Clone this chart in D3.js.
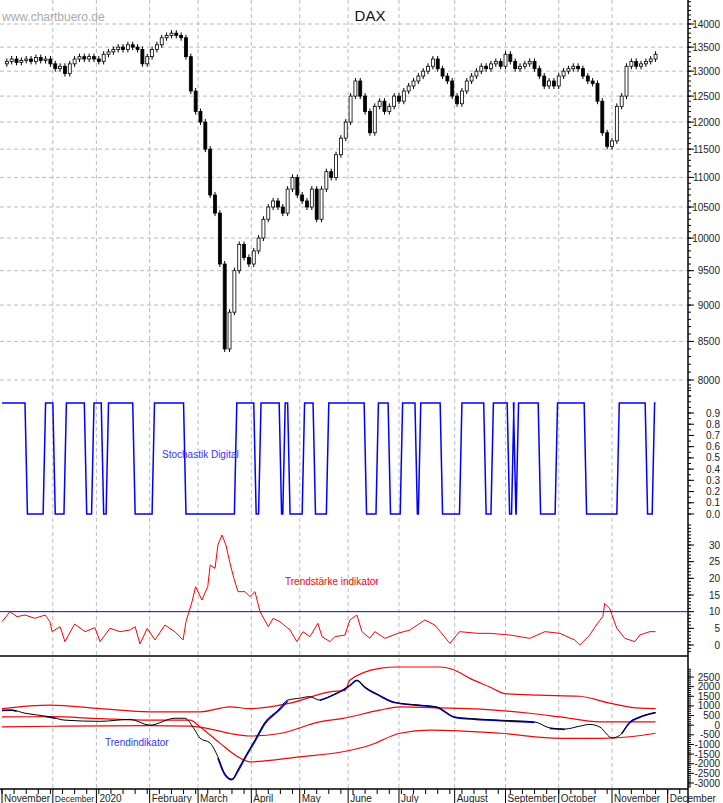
<!DOCTYPE html>
<html><head><meta charset="utf-8">
<script src="https://cdn.jsdelivr.net/npm/d3@7"></script>
<style>body{margin:0;background:#fff}svg{display:block;font-family:Arial,"Liberation Sans",sans-serif}</style>
</head><body><svg id="c" width="723" height="803"></svg>
<script>
// trading days per month, Nov 2019 .. Dec 2020
const months = ["November","December","2020","February","March","April","May","June","July","August","September","October","November","December"];
const monthDays = [21,18,22,20,22,20,20,21,23,21,22,22,23,10];
// closes, one every 2 trading days
const closes = [13150,13200,13250,13180,13220,13250,13200,13280,13220,13250,13150,13050,13100,12950,13150,13250,13300,13250,13300,13250,
13200,13350,13400,13450,13500,13450,13550,13500,13450,13150,13300,13450,13550,13700,13750,13800,13750,13700,13300,12600,
12200,12000,11500,10700,10400,9600,8400,8900,9500,9900,9700,9600,9800,10000,10300,10500,10600,10500,10400,10800,
11000,10700,10600,10500,10800,10300,10800,11100,11000,11400,11700,12000,12500,12800,12500,12200,11800,12300,12400,12200,
12300,12500,12400,12600,12700,12800,12900,13000,13100,13250,13050,12900,12800,12500,12350,12600,12800,12900,13000,13100,
13050,13150,13200,13100,13350,13200,13050,13100,13150,13200,13050,12900,12700,12800,12700,12900,13000,13050,13100,13050,
12900,12800,12750,12400,11800,11550,11650,12300,12500,13100,13200,13100,13150,13200,13250,13350];
// stochastic digital: starts at 1, flips at these trading days
const stochFlips = [9.5,17,21,25.6,34,37,41,43,54,62,75,96,104,106,114.5,116,118,124,128.5,134,149.6,154.5,159.5,164.5,170.6,172,181,189,199,202,208.7,210.5,211.3,212.4,221.5,228.5,240.5,254,265.7,268.6];
const stochEnd = 270;
// Trendstaerke [day, value]
const strength = [[0,7],[3.3,10],[6.2,8.5],[9.5,9],[13.6,8],[17.8,9],[19.8,7],[20.7,4],[24,5.5],[26,1],[30,6.3],[34.3,4],[38.4,5.2],[40.5,1],[44.6,5],[48.7,4],[52.9,4.5],[55,5.5],[57,0.3],[60,5],[63.2,1.5],[67.3,6],[71.4,4],[74.8,1.5],[76,7],[78.5,13],[80,17.5],[82.6,13.5],[85,17.5],[86,24],[88,23],[89.2,30],[90.9,33],[92.5,30],[94.2,24.5],[95.8,20],[97.5,16],[100.4,16],[102.4,14.5],[104.5,16],[106.6,10],[110,5.5],[112,8],[114.8,7],[119,4.5],[121.8,1],[124.3,4],[127.2,2.5],[130.5,6.5],[132.2,2.5],[135.5,1],[137.5,2.5],[141.7,3],[143.7,7.5],[146.6,9],[148.7,4],[152,2],[154,4],[158.2,2],[163.5,3.5],[168.5,4.5],[174.7,7.5],[178.8,6],[185,0.5],[189,4],[196.6,3.5],[201.5,3.5],[209.8,3],[218,2],[224.3,4],[230.5,3.5],[236.6,1.5],[238.7,0],[242.8,3],[246,6.5],[248.2,8.5],[249,12.5],[251,11],[254,5],[257.3,2],[261.4,1],[263.5,3],[267.6,4],[270,4]];
// Trendindikator [day, value]
const trendBlack = [[0,780],[4,780],[9.5,620],[20,430],[26,260],[40.5,200],[53,300],[61,0],[71.5,360],[75.5,360],[79.7,-260],[81.8,-670],[86,-930],[89.2,-1640],[92,-2500],[95,-2800],[97.5,-2300],[100.4,-1640],[104.5,-760],[108.7,170],[114,780],[118,1300],[123,1400],[127,1480],[131.3,1300],[135.5,1500],[141.7,1900],[143.7,2070],[146.6,2330],[150,1980],[156,1550],[162,1200],[172.6,1040],[179.6,950],[187,430],[193.3,350],[205.7,260],[220,170],[226.3,-140],[232.5,-200],[238.7,-50],[242.8,40],[247,-100],[252,-660],[255.2,-530],[259.4,170],[263.5,430],[270,660]];
// blue segments (null = gap)
const trendBlue = [[0,760],[4,770],[6,720],null,[18,450],[22,360],null,[89.2,-1700],[92,-2560],[95,-2830],[97.5,-2380],[100.4,-1720],[104.5,-840],[108.7,90],[114,720],[118,1250],null,[131.3,1290],[135.5,1480],[141.7,1880],[143.7,2050],[146.6,2320],[150,1950],[156,1520],[162,1170],[172.6,1020],[179.6,920],[187,400],[193.3,320],[205.7,230],[220,140],null,[226.3,-170],[232.5,-220],null,[256,-450],[259.4,140],[263.5,410],[270,640]];
const bandUpper = [[0,860],[20,1040],[40.5,860],[61,690],[81.8,690],[94.2,950],[102.4,860],[119,1140],[135.5,1730],[141.7,1810],[143.7,2330],[156,2950],[163.5,3020],[181,3020],[187,2850],[193.3,2430],[201.5,1980],[207.7,1640],[222,1560],[238.7,1500],[251,1140],[263.5,880],[270,860]];
const bandMid = [[0,430],[20,440],[40.5,340],[61,260],[77.7,260],[81.8,-90],[90,-930],[98.3,-1700],[102.4,-1900],[123,-1640],[140.8,-1380],[152,-1040],[164.4,-420],[176.8,-260],[205.7,-420],[230.5,-680],[247,-680],[259.4,-600],[270,-420]];
const bandLow = [[0,-90],[24.8,-50],[61,-20],[77.7,-50],[86,-200],[94.2,-430],[102.4,-560],[114.8,-430],[131.3,170],[140.8,350],[156,780],[164.4,950],[181,900],[197.5,830],[218,620],[230.5,430],[247,170],[270,170]];
const priceTicks = [8000,8500,9000,9500,10000,10500,11000,11500,12000,12500,13000,13500,14000];
const stochTicks = [0,0.1,0.2,0.3,0.4,0.5,0.6,0.7,0.8,0.9];
const strengthTicks = [0,5,10,15,20,25,30];
const trendTicks = [2500,2000,1500,1000,500,0,-500,-1000,-1500,-2000,-2500,-3000];

const svg = d3.select("#c");
const W = 688;
const totalDays = d3.sum(monthDays);
const x = d3.scaleLinear().domain([0,252]).range([2,612]);
const yP = d3.scaleLog().domain([8000,14000]).range([380,24]);
const yS = d3.scaleLinear().domain([0,0.9]).range([514,413]);
const yT = d3.scaleLinear().domain([0,30]).range([645,545]);
const yI = d3.scaleLinear().domain([-3000,2500]).range([783,677]);
const bottom = 789;

let starts=[0]; monthDays.forEach((d,i)=>starts.push(starts[i]+d));
const grid = svg.append("g").attr("stroke","#bbb").attr("stroke-dasharray","4,3");
starts.slice(1,13).forEach(s=>grid.append("line").attr("x1",x(s)).attr("x2",x(s)).attr("y1",0).attr("y2",bottom));
priceTicks.forEach(t=>grid.append("line").attr("x1",0).attr("x2",W).attr("y1",yP(t)).attr("y2",yP(t)));

svg.append("text").attr("x",2).attr("y",21).attr("font-size",12).attr("fill","#aaa").text("www.chartbuero.de");
svg.append("text").attr("x",370).attr("y",21).attr("font-size",15).attr("text-anchor","middle").attr("fill","#111").text("DAX");

const cg = svg.append("g");
closes.forEach((c,i)=>{
  if(i===0) return;
  const o = closes[i-1], d = i*2, cx = x(d);
  const top = yP(Math.max(o,c)), bot = yP(Math.min(o,c));
  cg.append("line").attr("x1",cx).attr("x2",cx).attr("y1",top-3).attr("y2",bot+3).attr("stroke","#000");
  cg.append("rect").attr("x",cx-1.5).attr("y",top).attr("width",3).attr("height",Math.max(1,bot-top))
    .attr("fill",c>=o?"#fff":"#000").attr("stroke","#000").attr("stroke-width",0.8);
});

let pts=[[0,1]], st=1;
stochFlips.forEach(f=>{pts.push([f,st]); st=1-st; pts.push([f+1,st]);});
pts.push([stochEnd,st]);
svg.append("path").attr("d",d3.line().x(p=>x(p[0])).y(p=>yS(p[1]*0.99))(pts)).attr("fill","none").attr("stroke","#0000ff").attr("stroke-width",1.5);
svg.append("text").attr("x",162).attr("y",458).attr("font-size",10).attr("fill","#3333ff").text("Stochastik Digital");

svg.append("line").attr("x1",0).attr("x2",W).attr("y1",yT(10)).attr("y2",yT(10)).attr("stroke","#0000ff");
svg.append("path").attr("d",d3.line().x(p=>x(p[0])).y(p=>yT(p[1]))(strength)).attr("fill","none").attr("stroke","#f00");
svg.append("text").attr("x",285).attr("y",585).attr("font-size",10).attr("fill","#f00").text("Trendstärke indikator");
svg.append("line").attr("x1",0).attr("x2",W).attr("y1",656).attr("y2",656).attr("stroke","#000").attr("stroke-width",1.5);

const li = d3.line().defined(p=>p!==null).x(p=>x(p[0])).y(p=>yI(p[1])).curve(d3.curveMonotoneX);
[bandUpper,bandMid,bandLow].forEach(b=>svg.append("path").attr("d",li(b)).attr("fill","none").attr("stroke","#f00").attr("stroke-width",1.2));
svg.append("path").attr("d",li(trendBlue)).attr("fill","none").attr("stroke","#0000ff").attr("stroke-width",1.5);
svg.append("path").attr("d",li(trendBlack)).attr("fill","none").attr("stroke","#000").attr("stroke-width",1);
svg.append("text").attr("x",105).attr("y",746).attr("font-size",10).attr("fill","#3333ff").text("Trendindikator");

const ax = svg.append("g").attr("font-size",10).attr("fill","#222");
ax.append("line").attr("x1",W).attr("x2",W).attr("y1",0).attr("y2",803).attr("stroke","#000").attr("stroke-width",1.5);
function ticks(vals, sc, minor){
  vals.forEach(v=>{ax.append("line").attr("x1",W).attr("x2",W+6).attr("y1",sc(v)).attr("y2",sc(v)).attr("stroke","#000");
    ax.append("text").attr("x",720).attr("y",sc(v)+3.5).attr("text-anchor","end").text(sc===yS?d3.format(".1f")(v):v);});
  minor.forEach(v=>ax.append("line").attr("x1",W).attr("x2",W+3).attr("y1",sc(v)).attr("y2",sc(v)).attr("stroke","#000"));
}
ticks(priceTicks,yP,d3.range(7800,14600,100));
ticks(stochTicks,yS,d3.range(0,1.2,0.05));
ticks(strengthTicks,yT,d3.range(-2,37,1));
ticks(trendTicks,yI,d3.range(-3200,3000,100));

const bx = svg.append("g").attr("font-size",10).attr("fill","#222");
bx.append("line").attr("x1",0).attr("x2",W).attr("y1",bottom).attr("y2",bottom).attr("stroke","#000").attr("stroke-width",1.5);
months.forEach((m,i)=>{
  const s=starts[i];
  bx.append("line").attr("x1",x(s)).attr("x2",x(s)).attr("y1",bottom).attr("y2",803).attr("stroke","#000");
  bx.append("text").attr("x",x(s)+(i===2?3:2)).attr("y",802).attr("font-size",i===1?8.5:null).text(m);
});
d3.range(0,totalDays,5).forEach(d=>bx.append("line").attr("x1",x(d)).attr("x2",x(d)).attr("y1",bottom).attr("y2",bottom+5).attr("stroke","#000"));
</script></body></html>
